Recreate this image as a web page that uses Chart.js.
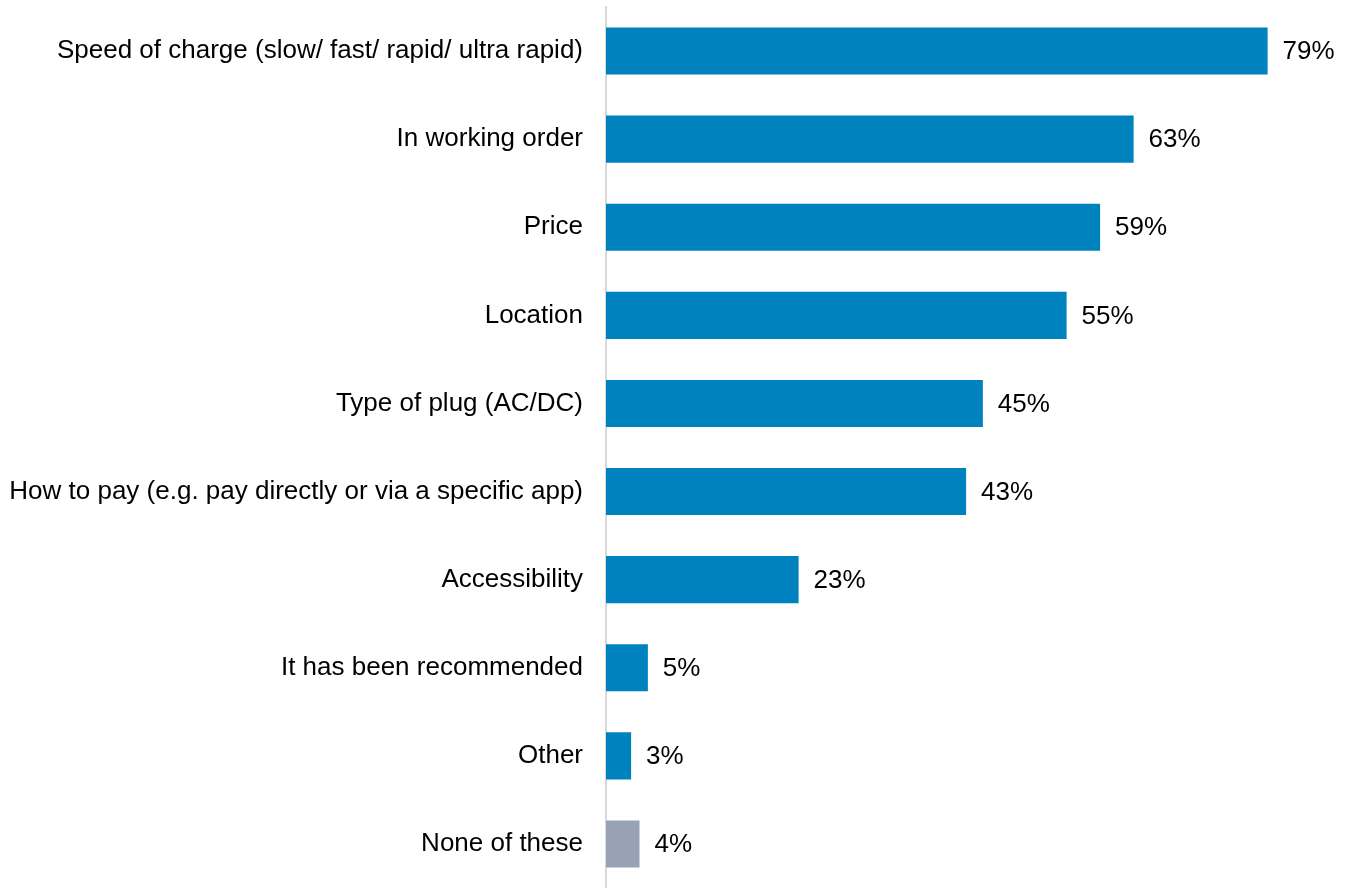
<!DOCTYPE html>
<html>
<head>
<meta charset="utf-8">
<script src="https://cdn.jsdelivr.net/npm/chart.js@4.4.1/dist/chart.umd.min.js"></script>
<style>
  html, body { margin: 0; padding: 0; background: #fff; }
  #wrap { width: 1348px; height: 888px; }
</style>
</head>
<body>
<div id="wrap"><canvas id="grafico"></canvas></div>
<script>
const categorias = [
    'Speed of charge (slow/ fast/ rapid/ ultra rapid)',
    'In working order',
    'Price',
    'Location',
    'Type of plug (AC/DC)',
    'How to pay (e.g. pay directly or via a specific app)',
    'Accessibility',
    'It has been recommended',
    'Other',
    'None of these'
];
const valores = [79, 63, 59, 55, 45, 43, 23, 5, 3, 4];
const colores = ['#0082BF', '#0082BF', '#0082BF', '#0082BF', '#0082BF',
    '#0082BF', '#0082BF', '#0082BF', '#0082BF', '#97A3B5'];

// escribe el porcentaje a la derecha de cada barra
const etiquetasValor = {
    id: 'etiquetasValor',
    afterDatasetsDraw(chart) {
        const ctx = chart.ctx;
        const meta = chart.getDatasetMeta(0);
        ctx.save();
        ctx.font = '26px "Liberation Sans", Arial, sans-serif';
        ctx.fillStyle = '#000';
        ctx.textAlign = 'left';
        ctx.textBaseline = 'middle';
        meta.data.forEach((barra, i) => {
            ctx.fillText(valores[i] + '%', barra.x + 15, barra.y + 1);
        });
        ctx.restore();
    }
};

const ctx = document.getElementById('grafico').getContext('2d');
new Chart(ctx, {
    type: 'bar',
    data: {
        labels: categorias,
        datasets: [{
            data: valores,
            backgroundColor: colores,
            barPercentage: 0.535,
            categoryPercentage: 1
        }]
    },
    options: {
        indexAxis: 'y',
        responsive: true,
        maintainAspectRatio: false,
        animation: false,
        layout: { padding: { top: 7, bottom: 0, left: 0, right: 0 } },
        plugins: {
            legend: { display: false },
            tooltip: { enabled: false }
        },
        scales: {
            x: {
                display: false,
                min: 0,
                max: 88.6
            },
            y: {
                afterFit(scale) {
                    scale.width = 606;
                    scale.paddingTop = 0;
                    scale.paddingBottom = 0;
                },
                grid: { display: false },
                border: { display: true, color: '#D9D9D9', width: 2 },
                ticks: {
                    color: '#000',
                    padding: 15,
                    font: { family: '"Liberation Sans", Arial, sans-serif', size: 26 }
                }
            }
        }
    },
    plugins: [etiquetasValor]
});
</script>
</body>
</html>
